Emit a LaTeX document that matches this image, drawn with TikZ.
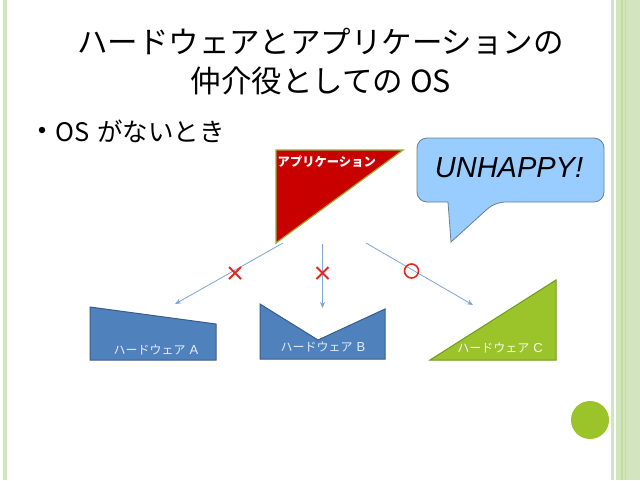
\documentclass[tikz,border=0pt]{standalone}
\usepackage{fontspec}
\setmainfont{Noto Sans CJK JP}
\newfontfamily\arialfont{Liberation Sans}
\usetikzlibrary{arrows.meta,calc}
\definecolor{bandgreen}{HTML}{D3E5BE}
\definecolor{stripegreen}{HTML}{A9CF6E}
\definecolor{limegreen}{HTML}{9BC42A}
\definecolor{limedark}{HTML}{6F9A1E}
\definecolor{appred}{HTML}{C80000}
\definecolor{appedge}{HTML}{8DB33A}
\definecolor{hwblue}{HTML}{4F81BD}
\definecolor{hwedge}{HTML}{385D8A}
\definecolor{arrowblue}{HTML}{7FA6D9}
\definecolor{bubblefill}{HTML}{99CCFF}
\definecolor{bubbleedge}{HTML}{6B7F95}
\definecolor{markred}{HTML}{E8281E}
\definecolor{hwtext}{HTML}{E4ECF6}
\tikzset{
  hwshape/.style={fill=hwblue, draw=hwedge, line width=1pt, line join=miter},
  hwlabel/.style={font=\fontsize{12}{14}\selectfont, text=hwtext, inner sep=0pt},
  linkarrow/.style={draw=arrowblue, line width=0.8pt, -{Stealth[length=6pt,width=5pt]}},
  nomark/.style={draw=markred, line width=1.8pt},
}
\begin{document}
\begin{tikzpicture}[x=1pt,y=-1pt]
\useasboundingbox (0,0) rectangle (640,480);
\fill[white] (0,0) rectangle (640,480);
% side bands
\fill[bandgreen] (3,0) rectangle (7,480);
\fill[bandgreen] (611,0) rectangle (640,480);
\fill[white] (614,0) rectangle (616,480);
\fill[stripegreen!70] (621,0) rectangle (622.5,480);
\fill[stripegreen!70] (624.5,0) rectangle (625.5,480);
% green dot
\node[circle, fill=limegreen, minimum size=38pt, inner sep=0pt] (dot) at (590,420) {};
% title
\node[font=\fontsize{30.5}{34}\selectfont, inner sep=0pt] (title1) at (320.5,42) {ハードウェアとアプリケーションの};
\node[font=\fontsize{30.5}{34}\selectfont, inner sep=0pt] (title2) at (321,81) {仲介役としての OS};
% bullet
\node[circle, fill=black, minimum size=6.5pt, inner sep=0pt] (bulletdot) at (42,130) {};
\node[font=\fontsize{25.5}{28}\selectfont, inner sep=0pt, anchor=west] (bullet) at (55,131) {OS\hspace{2pt} がないとき};
% application triangle
\coordinate (appA) at (276,150);
\coordinate (appB) at (403,150);
\coordinate (appC) at (276,243);
\draw[fill=appred, draw=appedge, line width=1.2pt] (appA) -- (appB) -- (appC) -- cycle;
\node[font=\bfseries\fontsize{12.3}{14}\selectfont, text=white, inner sep=0pt, anchor=west] (applabel) at (277.5,162) {アプリケーション};
% speech bubble
\draw[fill=bubblefill, draw=bubbleedge, line width=0.8pt, rounded corners=10pt]
  (417,138) -- (604,138) -- (604,202) -- (495,202) [sharp corners] -- (451,242) -- (448,202) [rounded corners=10pt] -- (417,202) -- cycle;
\node[font=\arialfont\itshape\fontsize{29}{32}\selectfont, inner sep=0pt] (unhappy) at (509,168) {UNHAPPY!};
% hardware A
\draw[hwshape] (90,307) -- (216,324) -- (216,360) -- (90,360) -- cycle;
\node[hwlabel] (hwA) at (156,350) {ハードウェア\hspace{4pt}{\arialfont\fontsize{13}{14}\selectfont A}};
% hardware B
\draw[hwshape] (260,304) -- (318,340) -- (385,309) -- (385,359) -- (260,359) -- cycle;
\node[hwlabel] (hwB) at (323,347) {ハードウェア\hspace{4pt}{\arialfont\fontsize{13}{14}\selectfont B}};
% hardware C
\draw[fill=limegreen, draw=limedark, line width=1pt] (430,360) -- (556,280) -- (556,360) -- cycle;
\node[hwlabel, text=white!92!limegreen] (hwC) at (500,348) {ハードウェア\hspace{4pt}{\arialfont\fontsize{13}{14}\selectfont C}};
% arrows
\coordinate (s1) at (283,243);
\coordinate (e1) at (175,304);
\coordinate (s2) at (322.5,244);
\coordinate (e2) at (322.5,308);
\coordinate (s3) at (366,243);
\coordinate (e3) at (473,305);
\draw[linkarrow] (s1) -- (e1);
\draw[linkarrow] (s2) -- (e2);
\draw[linkarrow] (s3) -- (e3);
% marks
\coordinate (x1) at (235,273);
\coordinate (x2) at (322.5,273);
\coordinate (o3) at (411.5,271);
\draw[nomark] ($(x1)+(-6,-6)$) -- ($(x1)+(6,6)$) ($(x1)+(6,-6)$) -- ($(x1)+(-6,6)$);
\draw[nomark] ($(x2)+(-6,-6)$) -- ($(x2)+(6,6)$) ($(x2)+(6,-6)$) -- ($(x2)+(-6,6)$);
\draw[nomark, line width=1.6pt] (o3) circle (7);
\end{tikzpicture}
\end{document}
